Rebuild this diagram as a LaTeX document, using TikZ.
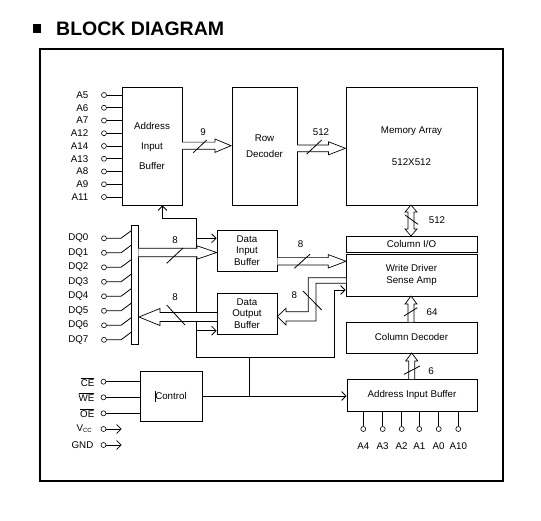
\documentclass[tikz,border=0pt]{standalone}
\usepackage{fontspec}
\setmainfont{Liberation Sans}
\usetikzlibrary{arrows.meta,calc}
\newcommand{\busR}[6]{\draw[bus] (#1,#3-#4) -- (#2-#6,#3-#4) -- (#2-#6,#3-#5) -- (#2,#3) -- (#2-#6,#3+#5) -- (#2-#6,#3+#4) -- (#1,#3+#4);}
\newcommand{\busL}[6]{\draw[bus] (#1,#3-#4) -- (#2+#6,#3-#4) -- (#2+#6,#3-#5) -- (#2,#3) -- (#2+#6,#3+#5) -- (#2+#6,#3+#4) -- (#1,#3+#4);}
\newcommand{\busU}[6]{\draw[bus] (#1-#4,#2) -- (#1-#4,#3+#6) -- (#1-#5,#3+#6) -- (#1,#3) -- (#1+#5,#3+#6) -- (#1+#4,#3+#6) -- (#1+#4,#2);}
\newcommand{\busUD}[6]{\draw[bus] (#1-#4,#2+#6) -- (#1-#5,#2+#6) -- (#1,#2) -- (#1+#5,#2+#6) -- (#1+#4,#2+#6) -- (#1+#4,#3-#6) -- (#1+#5,#3-#6) -- (#1,#3) -- (#1-#5,#3-#6) -- (#1-#4,#3-#6) -- cycle;}
\begin{document}
\begin{tikzpicture}[x=1pt,y=-1pt,
  every node/.style={font=\fontsize{9.75}{11}\selectfont},
  blk/.style={draw, line width=0.8pt, inner sep=0pt, align=center},
  pin/.style={circle, draw, line width=0.6pt, inner sep=0pt, minimum size=5pt},
  wire/.style={line width=0.8pt},
  arr/.style={wire,-{Straight Barb[length=4.5pt,width=9pt]}},
  bus/.style={line width=0.7pt, draw=black, fill=white},
  lbl/.style={inner sep=0pt}]
\useasboundingbox (0,0) rectangle (541,520);
% title
\fill (32.7,24) rectangle (40.7,33.3);
\node[anchor=base west, inner sep=0pt, font=\fontsize{19.5}{20}\selectfont\bfseries] (title) at (56,35) {BLOCK DIAGRAM};
% frame
\draw[line width=2pt] (40,49) rectangle (503,481);
% blocks
\node[blk, minimum width=60pt, minimum height=118pt, font=\fontsize{9.75}{20}\selectfont] (aib) at (152,146) {Address\\Input\\Buffer};
\node[blk, minimum width=65pt, minimum height=118pt, font=\fontsize{9.75}{16}\selectfont] (rowdec) at (264.5,146) {Row\\Decoder};
\node[blk, minimum width=131pt, minimum height=118pt, font=\fontsize{9.75}{32}\selectfont] (mem) at (411.5,146) {Memory Array\\512X512};
\node[blk, minimum width=131pt, minimum height=16pt] (colio) at (411.5,244) {Column I/O};
\node[blk, minimum width=131pt, minimum height=42pt, font=\fontsize{9.75}{12.7}\selectfont] (wdsa) at (411.5,275) {Write Driver\\Sense Amp};
\node[blk, minimum width=131pt, minimum height=31pt] (coldec) at (411.5,337.5) {Column Decoder};
\node[blk, minimum width=130pt, minimum height=32pt] (aib2) at (412,395) {Address Input Buffer};
\node[blk, minimum width=60pt, minimum height=41pt, font=\fontsize{9.75}{11.3}\selectfont] (dib) at (247,250.5) {Data\\Input\\Buffer};
\node[blk, minimum width=60pt, minimum height=41pt, font=\fontsize{9.75}{11.5}\selectfont] (dob) at (247,313.5) {Data\\Output\\Buffer};
\node[blk, minimum width=62pt, minimum height=50pt] (ctl) at (171,396) {Control};
\node[blk, minimum width=6.5pt, minimum height=119pt] (bar) at (135,284.5) {};
\draw[line width=0.6pt] (155.7,391) -- (155.7,402.3);
% A pins (left)
\foreach \t [count=\i from 0] in {A5,A6,A7,A12,A14,A13,A8,A9,A11} {
  \pgfmathsetmacro\yy{95+12.75*\i}
  \node[pin] (pa\i) at (104,\yy) {};
  \node[anchor=east,lbl] (la\i) at (88.5,\yy) {\t};
  \draw[wire] (pa\i.east) -- (pa\i.east -| aib.west);
}
% DQ pins
\foreach \i in {0,...,7} {
  \pgfmathsetmacro\yy{238.3+14.5*\i}
  \node[pin] (pd\i) at (104,\yy) {};
  \node[anchor=east,lbl] (ld\i) at (88.5,\yy) {DQ\i};
  \draw[wire] (pd\i.east) -- (121,\yy) -- (131.7,\yy-8);
}
% control pins
\node[pin] (pce) at (103.5,381.7) {};
\node[pin] (pwe) at (103.5,397.3) {};
\node[pin] (poe) at (103.5,413.3) {};
\node[pin] (pvc) at (103.5,429) {};
\node[pin] (pgn) at (103.5,445) {};
\node[anchor=east,lbl] (lce) at (94.5,381.7) {$\overline{\mbox{CE}}$};
\node[anchor=east,lbl] (lwe) at (94.5,397.3) {$\overline{\mbox{WE}}$};
\node[anchor=east,lbl] (loe) at (94.5,413.3) {$\overline{\mbox{OE}}$};
\node[anchor=east,lbl] (lvc) at (92,429) {V\raisebox{-1pt}{\fontsize{6}{6}\selectfont CC}};
\node[anchor=east,lbl] (lgn) at (93.5,445) {GND};
\draw[wire] (pce.east) -- (pce.east -| ctl.west);
\draw[wire] (pwe.east) -- (pwe.east -| ctl.west);
\draw[wire] (poe.east) -- (poe.east -| ctl.west);
\coordinate (vce) at (121.7,429);
\coordinate (gne) at (121.7,445);
\draw[arr] (pvc.east) -- (vce);
\draw[arr] (pgn.east) -- (gne);
% control net
\draw[arr] (ctl.east) -- (ctl.east -| aib2.west);
\coordinate (j1) at (249.3,396);
\coordinate (j2) at (249.3,357.5);
\coordinate (j3) at (196.7,357.5);
\coordinate (j4) at (334,357.5);
\coordinate (j5) at (196.7,218);
\coordinate (j6) at (162.5,218);
\coordinate (j7) at (334,290);
\coordinate (j8) at (196.7,238.3);
\coordinate (j9) at (196.7,330.7);
\draw[wire] (j1) -- (j2);
\draw[wire] (j3) -- (j4);
\draw[arr] (j4) -- (j7) -- (j7 -| wdsa.west);
\draw[arr] (j3) -- (j5) -- (j6) -- (j6 |- aib.south);
\draw[arr] (j8) -- (j8 -| dib.west);
\draw[arr] (j9) -- (j9 -| dob.west);
% bottom address pins
\foreach \t/\xx [count=\i] in {A4/363.3, A3/382.7, A2/401.7, A1/419.3, A0/438.7, A10/458.3} {
  \node[pin] (pb\i) at (\xx,429) {};
  \node[lbl] (lb\i) at (\xx,446) {\t};
  \draw[wire] (pb\i.north) -- (pb\i.north |- aib2.south);
}
% buses
\busR{182}{231}{145.7}{3.6}{6.7}{16}
\busR{297}{345.5}{148.3}{3.4}{6.5}{17}
\busUD{411}{205}{236}{3}{6}{7}
\busU{411}{322}{296}{3}{6}{8}
\busU{411.7}{379}{353}{3}{6}{8}
\busR{138.3}{216.7}{252.5}{4.2}{6.7}{19.7}
\busL{217}{139}{317}{4.5}{8.5}{21}
\busR{277.3}{346}{261.3}{3.7}{6.7}{17.7}
\draw[bus] (346,277.7) -- (308.3,277.7) -- (308.3,311.7) -- (286,311.7) -- (286,308.3) -- (277.3,316.5) -- (286,325) -- (286,321) -- (316,321) -- (316,283.3) -- (346,283.3);
% slashes
\draw[wire] (193.3,152.7) -- (206.7,140);
\draw[wire] (306.7,154) -- (321.7,140);
\draw[wire] (405,215) -- (418,224.3);
\draw[wire] (404,316) -- (417.3,307.7);
\draw[wire] (404,374.3) -- (420,366);
\draw[wire] (166.7,263.3) -- (183,248);
\draw[wire] (166.7,305) -- (185,325);
\draw[wire] (294.3,268.3) -- (310,254.3);
\draw[wire] (303,291) -- (321.7,310);
% width labels
\node[lbl] (n9) at (203,132) {9};
\node[lbl] (n512a) at (321,132) {512};
\node[lbl] (n512b) at (437,220) {512};
\node[lbl] (n64) at (432,312) {64};
\node[lbl] (n6) at (431,371) {6};
\node[lbl] (n8a) at (175,240) {8};
\node[lbl] (n8b) at (175,296.7) {8};
\node[lbl] (n8c) at (300.7,244.3) {8};
\node[lbl] (n8d) at (294.3,295) {8};
\end{tikzpicture}
\end{document}
